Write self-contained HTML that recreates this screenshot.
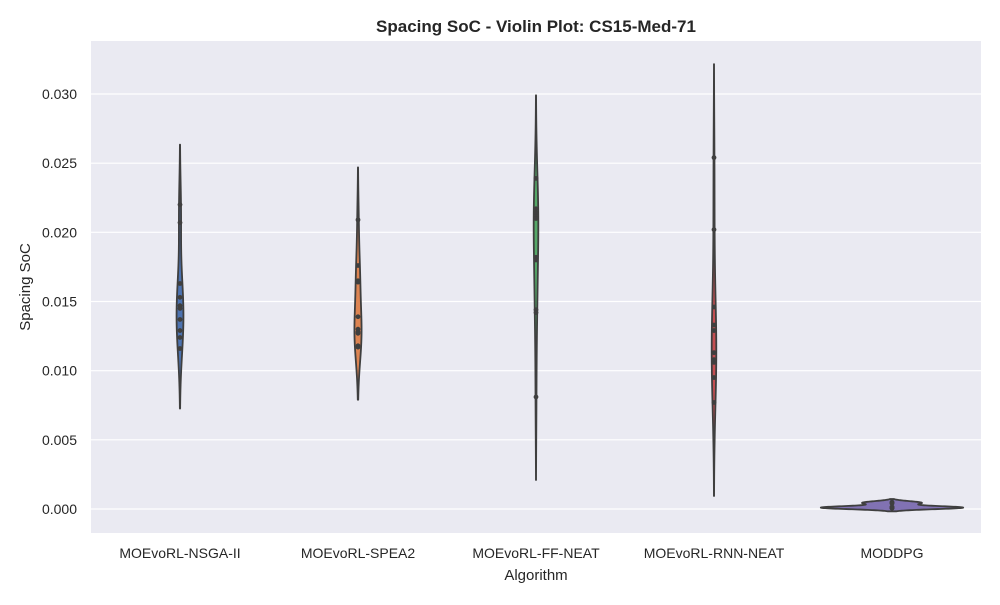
<!DOCTYPE html>
<html><head><meta charset="utf-8"><style>
body{margin:0;background:#fff;font-family:"Liberation Sans",Arial,sans-serif;}
svg text{font-family:"Liberation Sans",Arial,sans-serif;fill:#262626;}
</style></head><body>
<svg id="chart" width="1000" height="600" xmlns="http://www.w3.org/2000/svg">
<rect x="91" y="41" width="890" height="492" fill="#eaeaf2"/>
<g id="grid"></g>
<g id="yticks"></g>
<g id="violins"></g>
<g id="xticks"></g>
<text x="536" y="32" text-anchor="middle" font-size="17" font-weight="bold">Spacing SoC - Violin Plot: CS15-Med-71</text>
<text x="536" y="580" text-anchor="middle" font-size="15">Algorithm</text>
<text x="30" y="287" text-anchor="middle" font-size="15" transform="rotate(-90 30 287)">Spacing SoC</text>
</svg>
<script>
const categories=["MOEvoRL-NSGA-II","MOEvoRL-SPEA2","MOEvoRL-FF-NEAT","MOEvoRL-RNN-NEAT","MODDPG"];
const colors=["#4c72b0","#dd8452","#55a868","#c44e52","#8172b3"];
const nsga=[0.0220,0.0207,0.0163,0.0153,0.0147,0.0145,0.0137,0.0129,0.0124,0.0116];
const spea=[0.0209,0.0176,0.0164,0.0139,0.0130,0.0127,0.0117,0.0165,0.0128,0.0118];
const ffneat=[0.0239,0.0217,0.0214,0.0211,0.0182,0.0180,0.0144,0.0142,0.0081,0.0210];
const rnnneat=[0.0254,0.0202,0.0146,0.0129,0.0113,0.0106,0.0095,0.0077,0.0108,0.0133];
const moddpg=[0.0005,0.00045,0.0004,0.0001,0.00008,0.00012,0.00005,0.0001,0.00015,0.0001];
const series=[nsga,spea,ffneat,rnnneat,moddpg];
const yTicks=[0,0.005,0.010,0.015,0.020,0.025,0.030];
const yTickLabels=["0.000","0.005","0.010","0.015","0.020","0.025","0.030"];

const NS="http://www.w3.org/2000/svg";
const L=91,R=981,T=41,B=533;
const y=v=>509-v*(415/0.030);
const band=(R-L)/categories.length;
const xc=i=>L+band*(i+0.5);
function mk(tag,attrs,parent){const e=document.createElementNS(NS,tag);for(const k in attrs)e.setAttribute(k,attrs[k]);parent.appendChild(e);return e;}

const grid=document.getElementById('grid'),yt=document.getElementById('yticks');
yTicks.forEach((t,i)=>{
  const ln=mk('line',{x1:L,x2:R,y1:y(t),y2:y(t),stroke:'#fff','stroke-width':1.2},grid);
  
  
  const tx=mk('text',{x:77,y:y(t)+5,'text-anchor':'end','font-size':14},yt);
  tx.textContent=yTickLabels[i];
  
  
});
const xt=document.getElementById('xticks');
categories.forEach((c,i)=>{
  const tx=mk('text',{x:xc(i),y:558,'text-anchor':'middle','font-size':14},xt);
  tx.textContent=c;
  
  
});

// KDE (Scott bandwidth, cut=2), scale="area"
const kdes=series.map(d=>{
  const n=d.length,m=d.reduce((a,b)=>a+b,0)/n;
  const sd=Math.sqrt(d.reduce((a,b)=>a+(b-m)*(b-m),0)/(n-1));
  const bw=sd*Math.pow(n,-0.2);
  const lo=Math.min(...d)-2*bw,hi=Math.max(...d)+2*bw;
  const pts=[];const N=120;
  for(let k=0;k<=N;k++){const v=lo+(hi-lo)*k/N;let s=0;
    d.forEach(x=>{const z=(v-x)/bw;s+=Math.exp(-0.5*z*z);});
    pts.push([v,s/(n*bw*Math.sqrt(2*Math.PI))]);}
  return pts;
});
const gmax=Math.max(...kdes.map(p=>Math.max(...p.map(q=>q[1]))));
const half=band*0.8/2;
const vg=document.getElementById('violins');
kdes.forEach((pts,i)=>{
  const cx=xc(i);
  const right=pts.map(p=>`${cx+p[1]/gmax*half},${y(p[0])}`);
  const left=pts.slice().reverse().map(p=>`${cx-p[1]/gmax*half},${y(p[0])}`);
  const poly=mk('polygon',{points:right.concat(left).join(' '),fill:colors[i],stroke:'#3f3f3f','stroke-width':1.8,'stroke-linejoin':'round'},vg);
  
  
  series[i].forEach(v=>{
    const c=mk('circle',{cx:cx,cy:y(v),r:2.4,fill:'#3f3f3f'},vg);
    
    
  });
});
</script>
</body></html>
